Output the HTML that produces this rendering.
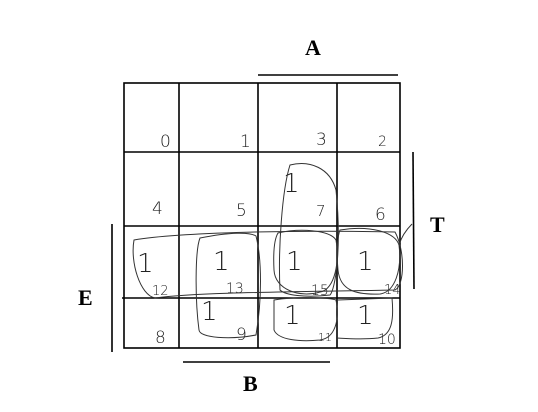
<!DOCTYPE html>
<html><head><meta charset="utf-8"><style>
html,body{margin:0;padding:0;background:#fff;}
svg{display:block;}
.g{stroke:#000;stroke-width:1.6;fill:none;}
.h{stroke:#333;stroke-width:1;fill:none;}
.d{font-family:"DejaVu Sans","Liberation Sans",sans-serif;font-weight:200;fill:#222;}
.L{font-family:"Liberation Serif",serif;font-weight:bold;font-size:22px;fill:#000;}
</style></head><body>
<svg width="538" height="412" viewBox="0 0 538 412">
<g>
<rect class="g" x="124" y="83" width="276" height="265"/>
<line class="g" x1="179" y1="83" x2="179" y2="348"/>
<line class="g" x1="258" y1="83" x2="258" y2="348"/>
<line class="g" x1="337" y1="83" x2="337" y2="348"/>
<line class="g" x1="124" y1="152" x2="400" y2="152"/>
<line class="g" x1="124" y1="226" x2="400" y2="226"/>
<line class="g" x1="122" y1="298" x2="400" y2="298"/>
</g>
<g>
<line class="g" x1="258" y1="75" x2="398" y2="75"/>
<line class="g" x1="413" y1="152" x2="414" y2="289"/>
<line class="g" x1="112" y1="224" x2="112" y2="352"/>
<line class="g" x1="183" y1="362" x2="330" y2="362"/>
</g>
<text class="L" x="305" y="55">A</text>
<text class="L" x="430" y="232">T</text>
<text class="L" x="78" y="305">E</text>
<text class="L" x="243" y="391">B</text>
<g class="d" font-size="17">
<text x="160" y="147">0</text><text x="240" y="147">1</text><text x="316" y="145">3</text><text x="378" y="146" font-size="14">2</text>
<text x="152" y="214">4</text><text x="236" y="216">5</text><text x="316" y="216" font-size="15">7</text><text x="375" y="220">6</text>
<text x="152" y="295" font-size="13">12</text><text x="226" y="293" font-size="14">13</text><text x="311" y="295" font-size="14">15</text><text x="384" y="294" font-size="13">14</text>
<text x="155" y="343">8</text><text x="236" y="340">9</text><text x="318" y="341" font-size="11">11</text><text x="378" y="344" font-size="14">10</text>
</g>
<g class="d" font-size="26">
<text x="137" y="272">1</text><text x="213" y="270">1</text><text x="286" y="270">1</text><text x="357" y="270">1</text>
<text x="283" y="192">1</text>
<text x="201" y="320">1</text><text x="284" y="324">1</text><text x="357" y="324">1</text>
</g>
<g>
<path class="h" d="M134,240 C180,232 300,230 395,232 C405,250 405,285 395,290 C300,292 200,292 155,298 C140,295 130,262 134,240Z"/>
<path class="h" d="M200,238 C230,232 250,232 256,236 C262,260 262,300 256,335 C230,340 200,338 199,330 C195,300 195,250 200,238Z"/>
<path class="h" d="M290,165 C310,160 330,168 336,190 C342,250 335,290 330,295 C305,298 285,295 280,290 C278,250 282,190 290,165Z"/>
<path class="h" d="M278,233 C300,228 330,230 336,240 C340,260 335,290 320,292 C300,298 275,290 274,270 C273,250 275,238 278,233Z"/>
<path class="h" d="M340,230 C370,225 395,232 399,245 C402,270 395,292 380,294 C355,295 340,290 338,270 C336,250 338,235 340,230Z"/>
<path class="h" d="M274,300 C300,296 330,298 336,300 C340,320 335,338 320,340 C300,342 278,340 274,330Z"/>
<path class="h" d="M338,300 L392,298 C394,320 392,335 378,338 C360,340 340,338 336,338"/>
<path class="h" d="M399,245 C402,235 408,228 412,224"/>
</g>
</svg>
</body></html>
